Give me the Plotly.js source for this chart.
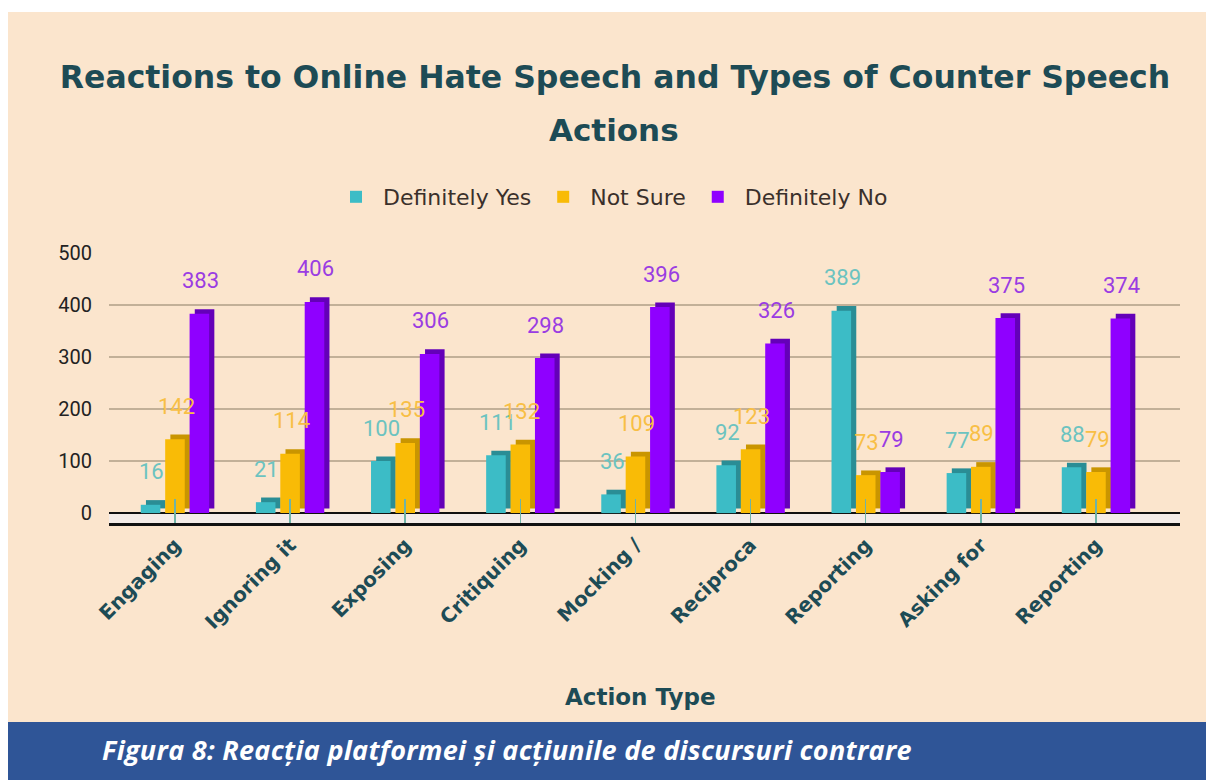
<!DOCTYPE html>
<html>
<head>
<meta charset="utf-8">
<script src="https://cdn.plot.ly/plotly-3.0.1.min.js"></script>
<style>
  html, body { margin:0; padding:0; background:#ffffff; width:1206px; height:780px; overflow:hidden; }
  #chart { position:absolute; left:8px; top:12px; width:1198px; height:710px; background:#fbe5cd; }
  #caption { position:absolute; left:8px; top:722px; width:1198px; height:58px; background:#2f5597;
             color:#ffffff; font-family:"Open Sans", Lato, sans-serif; font-weight:bold; font-style:italic;
             font-size:27px; line-height:56px; box-sizing:border-box; padding-left:94px; white-space:nowrap;
             letter-spacing:0.3px; }
</style>
</head>
<body>
<div id="chart"></div>
<div id="caption">Figura 8: Reacția platformei și acțiunile de discursuri contrare</div>
<script>
// ---- data ----
const categories = ['Engaging', 'Ignoring it', 'Exposing', 'Critiquing', 'Mocking /', 'Reciproca', 'Reporting', 'Asking for', 'Reporting'];
const seriesNames = ['Definitely Yes', 'Not Sure', 'Definitely No'];
const definitelyYes = [16, 21, 100, 111, 36, 92, 389, 77, 88];
const notSure = [142, 114, 135, 132, 109, 123, 73, 89, 79];
const definitelyNo = [383, 406, 306, 298, 396, 326, 79, 375, 374];
const yTicks = [0, 100, 200, 300, 400, 500];

// ---- styles ----
const frontColors = ['#3cbcc6', '#f9bb06', '#8f00ff'];
const sideColors = ['#2a8d95', '#c99500', '#6400b8'];
const labelColors = ['#6cc3c0', '#f8bf45', '#9a3ce2'];
const seriesValues = [definitelyYes, notSure, definitelyNo];

const xs = categories.map((c, i) => i);
const spacing = 0.212, w = 0.17, dx = 0.045, dy = 9;

const traces = [];
const annotations = [];
seriesValues.forEach((vals, k) => {
  const center = (k - 1) * spacing;
  traces.push({
    type: 'bar', x: xs, y: vals, base: dy, offset: center - w / 2 + dx, width: w,
    marker: { color: sideColors[k], line: { width: 0 } }, showlegend: false, hoverinfo: 'skip'
  });
  traces.push({
    type: 'bar', name: seriesNames[k], x: xs, y: vals, offset: center - w / 2, width: w,
    marker: { color: frontColors[k], line: { width: 0 } }
  });
  vals.forEach((v, i) => {
    annotations.push({
      xref: 'x', yref: 'y', x: i + center + 0.01, y: v, yshift: 33, yanchor: 'middle',
      text: String(v), showarrow: false,
      font: { family: 'Roboto, sans-serif', size: 22, color: labelColors[k] }
    });
  });
});

// second title line and x-axis title
annotations.push({
  xref: 'paper', yref: 'paper', x: (614 - 109) / 1071, y: (511 - 118) / 270, yanchor: 'middle', xanchor: 'center',
  text: '<b>Actions</b>', showarrow: false,
  font: { family: 'DejaVu Sans, sans-serif', size: 31, color: '#1d4b55' }
});
annotations.push({
  xref: 'paper', yref: 'paper', x: (640 - 109) / 1071, y: (511 - 685) / 270, yanchor: 'middle', xanchor: 'center',
  text: '<b>Action Type</b>', showarrow: false,
  font: { family: 'DejaVu Sans, sans-serif', size: 23, color: '#1d4b55' }
});

const layout = {
  width: 1198, height: 710,
  paper_bgcolor: '#fbe5cd', plot_bgcolor: 'rgba(0,0,0,0)',
  margin: { l: 101, r: 26, t: 241, b: 199 },
  barmode: 'overlay',
  title: {
    text: '<b>Reactions to Online Hate Speech and Types of Counter Speech</b>',
    x: (615 - 8) / 1198, xanchor: 'center', y: 1 - 65 / 710, yanchor: 'middle', yref: 'container',
    font: { family: 'DejaVu Sans, sans-serif', size: 31.5, color: '#1d4b55' }
  },
  showlegend: true,
  legend: {
    orientation: 'h', x: (611 - 109) / 1071, xanchor: 'center', y: (511 - 185) / 270, yanchor: 'middle',
    font: { family: 'DejaVu Sans, sans-serif', size: 22, color: '#3a302b' },
    bgcolor: 'rgba(0,0,0,0)', itemwidth: 44, traceorder: 'normal'
  },
  xaxis: {
    range: [-0.573, 8.73], tickmode: 'array', tickvals: xs, ticktext: categories,
    tickangle: -45, showgrid: false, zeroline: false,
    ticks: 'inside', ticklen: 24, tickwidth: 1.5, tickcolor: '#6fb3a6',
    showline: true, linecolor: '#111111', linewidth: 2.5,
    tickfont: { family: 'DejaVu Sans, sans-serif', size: 20, color: '#1d4b55', weight: 'bold' },
    fixedrange: true
  },
  yaxis: {
    range: [-19, 500], tickmode: 'array', tickvals: yTicks,
    showgrid: true, gridcolor: '#c2b098', gridwidth: 1.2,
    zeroline: true, zerolinecolor: '#111111', zerolinewidth: 2,
    showline: false, ticks: '', ticklabelstandoff: 16,
    tickfont: { family: 'Roboto, sans-serif', size: 20, color: '#222222' },
    fixedrange: true
  },
  shapes: [{
    type: 'rect', xref: 'paper', yref: 'y', x0: 0, x1: 1, y0: -19, y1: 0,
    fillcolor: '#f4ece8', line: { width: 0 }, layer: 'below'
  }],
  annotations: annotations
};

Plotly.newPlot('chart', traces, layout, { displayModeBar: false, staticPlot: true });
</script>
</body>
</html>
